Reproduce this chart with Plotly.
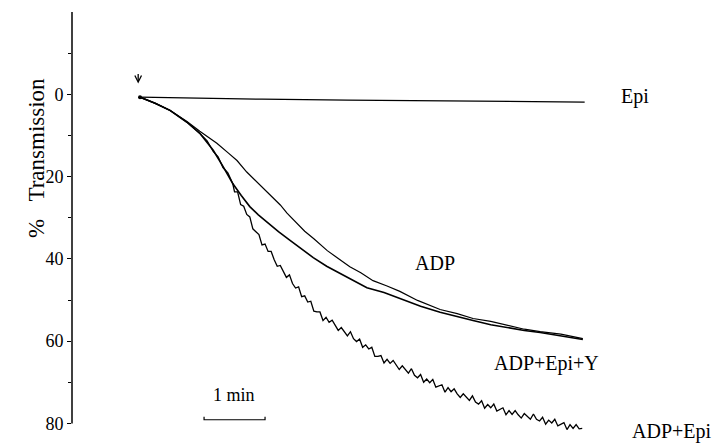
import plotly.graph_objects as go

# time in minutes after the agonist is added (arrow), % transmission (axis reversed)
t_epi = [0.0, 1.0, 2.0, 3.4, 4.5, 5.5, 6.5, 7.29]
v_epi = [0.7, 1.0, 1.2, 1.4, 1.5, 1.7, 1.8, 1.9]

t_adp = [0.0, 0.25, 0.49, 0.77, 0.98, 1.26, 1.45, 1.59, 1.75, 1.92, 2.05, 2.18,
         2.30, 2.41, 2.55, 2.70, 2.85, 3.07, 3.25, 3.44, 3.62, 3.82, 4.05,
         4.26, 4.55, 4.92, 5.20, 5.46, 5.75, 6.02, 6.30, 6.56, 6.90, 7.26]
v_adp = [0.7, 2.2, 3.9, 6.6, 9.0, 11.9, 14.3, 16.1, 18.9, 21.4, 23.2, 25.3,
         26.9, 28.9, 31.0, 33.3, 35.1, 38.0, 39.9, 41.9, 43.4, 45.3, 46.6,
         47.9, 50.1, 52.3, 53.3, 54.5, 55.2, 56.2, 57.1, 57.7, 58.3, 59.4]

t_aey = [0.0, 0.25, 0.49, 0.77, 0.98, 1.20, 1.36, 1.52, 1.66, 1.80, 1.94, 2.08,
         2.27, 2.46, 2.65, 2.84, 3.06, 3.28, 3.50, 3.72, 4.00, 4.26, 4.60,
         4.92, 5.20, 5.46, 5.75, 6.02, 6.30, 6.56, 6.90, 7.26]
v_aey = [0.7, 2.2, 3.9, 6.8, 9.5, 13.6, 17.5, 21.7, 24.6, 27.3, 29.3, 31.1,
         33.4, 35.5, 37.7, 39.7, 41.8, 43.6, 45.4, 47.0, 48.2, 49.6, 51.5,
         53.0, 54.1, 55.0, 56.0, 56.7, 57.4, 57.9, 58.7, 59.6]

t_ae = [0.0, 0.25, 0.49, 0.77, 0.98, 1.10, 1.20, 1.28, 1.36, 1.44, 1.52,
        1.55, 1.60, 1.65, 1.70, 1.75, 1.80, 1.85, 1.90, 1.95, 2.00,
        2.05, 2.10, 2.15, 2.20, 2.25, 2.30, 2.35, 2.40, 2.45, 2.50,
        2.55, 2.60, 2.65, 2.70, 2.75, 2.80, 2.85, 2.90, 2.95, 3.00,
        3.05, 3.10, 3.15, 3.20, 3.25, 3.30, 3.35, 3.40, 3.45, 3.50,
        3.55, 3.60, 3.65, 3.70, 3.75, 3.80, 3.85, 3.90, 3.95, 4.00,
        4.05, 4.10, 4.15, 4.20, 4.25, 4.30, 4.35, 4.40, 4.45, 4.50,
        4.55, 4.60, 4.65, 4.70, 4.75, 4.80, 4.85, 4.90, 4.95, 5.00,
        5.05, 5.10, 5.15, 5.20, 5.25, 5.30, 5.35, 5.40, 5.45, 5.50,
        5.55, 5.60, 5.65, 5.70, 5.75, 5.80, 5.85, 5.90, 5.95, 6.00,
        6.05, 6.10, 6.15, 6.20, 6.25, 6.30, 6.35, 6.40, 6.45, 6.50,
        6.55, 6.60, 6.65, 6.70, 6.75, 6.80, 6.85, 6.90, 6.95, 7.00,
        7.05, 7.10, 7.15, 7.20, 7.25]
v_ae = [0.7, 2.2, 3.9, 6.8, 9.5, 11.3, 13.9, 15.2, 17.8, 19.1, 21.7,
        23.7, 23.7, 26.8, 27.2, 29.2, 29.8, 32.7, 33.4, 34.1, 36.6,
        36.4, 38.2, 38.2, 40.2, 41.8, 41.6, 43.0, 44.5, 43.9, 46.0,
        47.1, 46.8, 49.2, 49.0, 50.5, 50.3, 52.7, 52.9, 52.9, 55.0,
        54.2, 55.4, 54.9, 56.3, 57.4, 56.7, 57.6, 58.7, 57.7, 59.4,
        60.1, 59.5, 61.5, 60.9, 61.9, 61.5, 63.7, 63.7, 63.5, 65.3,
        64.4, 65.4, 64.7, 65.9, 66.9, 66.0, 66.8, 67.8, 66.7, 68.3,
        68.9, 68.1, 70.0, 69.2, 70.1, 69.3, 71.2, 70.9, 70.6, 72.4,
        71.3, 72.3, 71.6, 72.8, 73.7, 72.8, 73.5, 74.4, 73.3, 74.8,
        75.3, 74.5, 76.3, 75.4, 76.2, 75.3, 77.0, 76.6, 76.2, 77.9,
        76.9, 77.8, 76.9, 77.9, 78.7, 77.6, 78.2, 79.0, 77.7, 79.0,
        79.4, 78.5, 80.2, 79.2, 79.9, 79.0, 80.6, 80.2, 79.8, 81.5,
        80.3, 81.2, 80.3, 81.3, 81.2]

y_ticks = [0, 20, 40, 60, 80]
y_minor = [-10, 10, 30, 50, 70]

labels = ["Epi", "ADP", "ADP+Epi+Y", "ADP+Epi"]

SERIF = "Liberation Serif, Times New Roman, serif"

fig = go.Figure()
fig.add_trace(go.Scatter(x=t_epi, y=v_epi, mode="lines",
                         line=dict(color="black", width=1.2), showlegend=False))
fig.add_trace(go.Scatter(x=t_adp, y=v_adp, mode="lines",
                         line=dict(color="black", width=1.2), showlegend=False))
fig.add_trace(go.Scatter(x=t_aey, y=v_aey, mode="lines",
                         line=dict(color="black", width=1.6), showlegend=False))
fig.add_trace(go.Scatter(x=t_ae, y=v_ae, mode="lines",
                         line=dict(color="black", width=1.3), showlegend=False))

# start dot
fig.add_trace(go.Scatter(x=[t_adp[0]], y=[v_adp[0]], mode="markers",
                         marker=dict(color="black", size=4), showlegend=False))

# y axis line from -20 to 80
fig.add_shape(type="line", xref="paper", yref="y", x0=0, x1=0, y0=-20, y1=80,
              line=dict(color="black", width=1.5))

# 1 min scale bar
fig.add_shape(type="path", xref="x", yref="y",
              path="M 1.05 78.4 L 1.05 79.1 L 2.05 79.1 L 2.05 78.4",
              line=dict(color="black", width=1.2))

ann = dict(showarrow=False, font=dict(family=SERIF, size=20, color="black"))
fig.add_annotation(x=8.11, y=0.5, text=labels[0], **ann)
fig.add_annotation(x=4.84, y=40.9, text=labels[1], **ann)
fig.add_annotation(x=6.67, y=65.4, text=labels[2], **ann)
fig.add_annotation(x=8.72, y=82.0, text=labels[3], **ann)
fig.add_annotation(x=1.54, y=73.0, text="1 min",
                   showarrow=False, font=dict(family=SERIF, size=18, color="black"))
# injection arrow
fig.add_annotation(x=-0.03, y=-2.6, text="", showarrow=True, ax=0, ay=-11,
                   arrowhead=5, arrowsize=1, arrowwidth=1.3, arrowcolor="black")
fig.add_annotation(xref="paper", x=-0.078, y=15.5, text="%\u00a0\u00a0\u00a0Transmission",
                   textangle=-90, showarrow=False,
                   font=dict(family=SERIF, size=23, color="black"))

fig.update_layout(
    width=721, height=446,
    margin=dict(l=72, r=0, t=12, b=2),
    paper_bgcolor="white", plot_bgcolor="white",
    font=dict(family=SERIF, color="black"),
    xaxis=dict(range=[-1.115, 9.525], visible=False),
    yaxis=dict(range=[85, -20], tickvals=y_ticks, ticktext=[str(v) for v in y_ticks],
               ticks="outside", ticklen=4, tickwidth=1.2, tickcolor="black",
               showgrid=False, zeroline=False, showline=False,
               tickfont=dict(family=SERIF, size=18, color="black"),
               minor=dict(tickvals=y_minor, ticks="outside", ticklen=3,
                          tickwidth=1, tickcolor="black", showgrid=False)),
)

fig.write_html("out.html")
